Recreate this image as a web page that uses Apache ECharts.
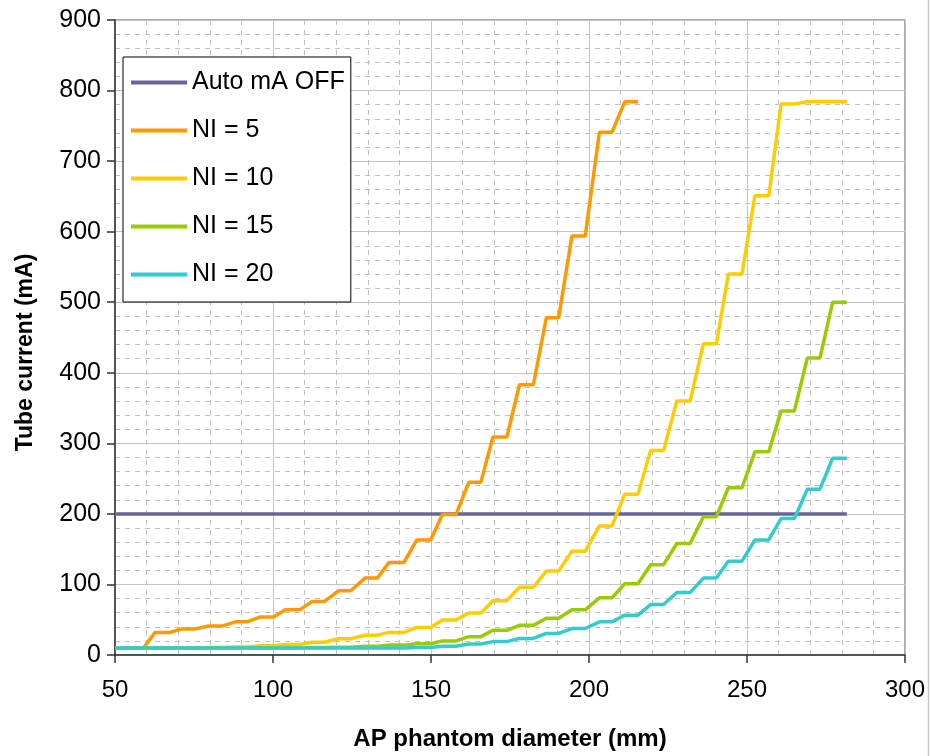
<!DOCTYPE html>
<html>
<head>
<meta charset="utf-8">
<script src="https://cdn.jsdelivr.net/npm/echarts@6/dist/echarts.min.js"></script>
<style>
  html, body { margin: 0; padding: 0; background: #fff; }
</style>
</head>
<body>
<div id="myChart" style="width: 930px; height: 756px"></div>
<script>
// each step of the staircase: flat part from stepStart[i] to stepEnd[i] (mm)
const stepStart = [50, 62.7, 71.2, 79.6, 88.1, 96.0, 103.9, 112.4, 120.7, 129.1, 136.7, 145.5, 153.6, 162.0,
  169.6, 178.0, 186.5, 194.6, 203.3, 211.3, 219.5, 227.8, 236.2, 244.1, 252.5, 260.8, 269.1, 277.1];
const stepEnd = [59.0, 67.4, 75.4, 83.8, 91.8, 100.2, 108.5, 116.3, 124.6, 133.0, 141.4, 149.9, 157.9, 165.8,
  174.0, 182.4, 190.4, 198.8, 207.3, 215.5, 223.6, 232.0, 240.3, 248.4, 256.9, 265.0, 273.1, 281.6];

// tube current (mA) on each step
const ni5 = [10, 32, 37, 41, 47, 54, 64, 76, 91, 109, 131, 163, 199, 245, 309, 383, 478, 594, 741, 784];
const ni10 = [10, 10, 10, 10.5, 11.5, 13, 15, 18, 23, 28, 32, 39, 49.5, 59.5, 77, 96, 119, 147, 183, 228,
  290, 360, 441, 540, 651, 781, 784, 784];
const ni15 = [10, 10, 10, 10, 10, 10, 10, 10.5, 11, 12.5, 14, 16, 20, 26, 35, 42, 52, 64, 81, 101,
  128, 158, 196, 237, 288, 346, 421, 500];
const ni20 = [10, 10, 10, 10, 10, 10, 10, 10, 10, 10, 10, 10.5, 12.5, 15.5, 19, 23.5, 30.5, 37.5, 47, 56.5,
  71.5, 88.5, 109, 133, 163, 193.5, 235, 279];

const autoOffX = [50, 281.6];
const autoOffY = [200, 200];

const seriesNames = ["Auto mA OFF", "NI = 5", "NI = 10", "NI = 15", "NI = 20"];
const colors = ["#666699", "#ff9900", "#ffcc00", "#99cc00", "#33cccc"];

const xTicks = [50, 300, 50];   // min, max, interval
const yTicks = [0, 900, 100];

// turn step levels into corner points
function steps(levels) {
  let pts = [];
  levels.forEach((v, i) => {
    pts.push([stepStart[i], v]);
    pts.push([stepEnd[i], v]);
  });
  return pts;
}

const font = "Liberation Sans, Arial, sans-serif";
const lineData = [
  autoOffX.map((x, i) => [x, autoOffY[i]]),
  steps(ni5),
  steps(ni10),
  steps(ni15),
  steps(ni20),
];

let myChart = echarts.init(document.getElementById("myChart"));
myChart.setOption({
  backgroundColor: "#fff",
  animation: false,
  grid: {
    left: 115, right: 25, top: 20, bottom: 98,
    show: true,
    borderColor: "#8c8c8c",
    borderWidth: 1.5,
  },
  legend: {
    orient: "vertical",
    left: 123,
    top: 57,
    padding: [13, 6, 15, 8],
    itemGap: 23,
    itemWidth: 56,
    itemHeight: 4,
    icon: "rect",
    backgroundColor: "#fff",
    borderColor: "#000",
    borderWidth: 1,
    textStyle: { fontFamily: font, fontSize: 25, color: "#000", lineHeight: 25 },
    data: seriesNames,
  },
  xAxis: {
    type: "value",
    min: xTicks[0],
    max: xTicks[1],
    interval: xTicks[2],
    name: "AP phantom diameter (mm)",
    nameLocation: "middle",
    nameGap: 72,
    nameTextStyle: { fontFamily: font, fontSize: 24, fontWeight: "bold", color: "#000" },
    axisLine: { show: true, lineStyle: { color: "#333", width: 1.5 } },
    axisTick: { show: true, length: 8, lineStyle: { color: "#333", width: 1.5 } },
    axisLabel: { fontFamily: font, fontSize: 24, color: "#000", margin: 23 },
    splitLine: { show: true, lineStyle: { color: "#c4c4c4", width: 1 } },
    minorTick: { show: false, splitNumber: 5 },
    minorSplitLine: { show: true, lineStyle: { color: "#c0c0c0", width: 1, type: [5, 5] } },
  },
  yAxis: {
    type: "value",
    min: yTicks[0],
    max: yTicks[1],
    interval: yTicks[2],
    name: "Tube current (mA)",
    nameLocation: "middle",
    nameGap: 78,
    nameTextStyle: { fontFamily: font, fontSize: 23, fontWeight: "bold", color: "#000", padding: [0, 30, 0, 0] },
    axisLine: { show: true, lineStyle: { color: "#333", width: 1.5 } },
    axisTick: { show: true, length: 8, lineStyle: { color: "#333", width: 1.5 } },
    axisLabel: { fontFamily: font, fontSize: 25, color: "#000", margin: 14 },
    splitLine: { show: true, lineStyle: { color: "#c4c4c4", width: 1 } },
    minorTick: { show: false, splitNumber: 5 },
    minorSplitLine: { show: true, lineStyle: { color: "#c0c0c0", width: 1, type: [5, 5] } },
  },
  // outer chart border on the right edge
  graphic: [
    { type: "line", shape: { x1: 928.5, y1: 0, x2: 928.5, y2: 756 }, style: { stroke: "#c8c8c8", lineWidth: 1.5 } },
  ],
  series: seriesNames.map((name, i) => ({
    name: name,
    type: "line",
    data: lineData[i],
    symbol: "none",
    color: colors[i],
    lineStyle: { color: colors[i], width: 3.5 },
    z: 2 + i,
  })),
});
</script>
</body>
</html>
